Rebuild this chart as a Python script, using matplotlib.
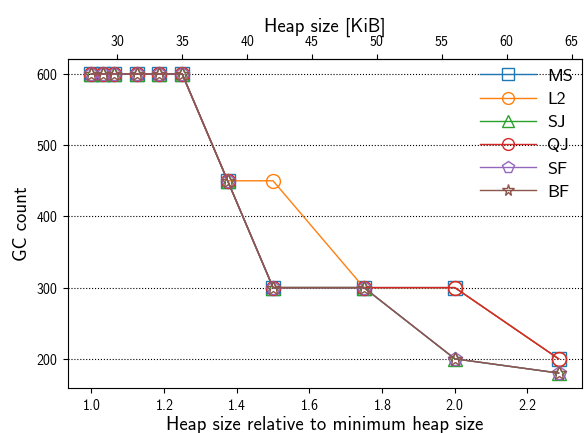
import matplotlib
matplotlib.use("Agg")
import matplotlib.pyplot as plt

plt.rcParams['font.family'] = ['cmss10', 'DejaVu Sans']
plt.rcParams['axes.formatter.use_mathtext'] = True

# minimum heap size in KiB
min_heap = 28

rel_heap = [1.0, 1.03125, 1.0625, 1.125, 1.1875, 1.25, 1.375, 1.5, 1.75,
            2.0, 2.2857]

gc_ms = [600, 600, 600, 600, 600, 600, 450, 300, 300, 300, 200]
gc_l2 = [600, 600, 600, 600, 600, 600, 450, 450, 300, 300, 200]
gc_sj = [600, 600, 600, 600, 600, 600, 450, 300, 300, 200, 180]
gc_qj = [600, 600, 600, 600, 600, 600, 450, 300, 300, 300, 200]
gc_sf = [600, 600, 600, 600, 600, 600, 450, 300, 300, 200, 180]
gc_bf = [600, 600, 600, 600, 600, 600, 450, 300, 300, 200, 180]

series = [
    ('MS', gc_ms, 's', 'tab:blue'),
    ('L2', gc_l2, 'o', 'tab:orange'),
    ('SJ', gc_sj, '^', 'tab:green'),
    ('QJ', gc_qj, 'o', 'tab:red'),
    ('SF', gc_sf, 'p', 'tab:purple'),
    ('BF', gc_bf, '*', 'tab:brown'),
]

fig = plt.figure(figsize=(5.87, 4.33), dpi=100)
ax = fig.add_axes([0.1158, 0.1039, 0.8757, 0.7598])

for name, vals, marker, color in series:
    ax.plot(rel_heap, vals, marker=marker, color=color, label=name,
            markersize=10, markerfacecolor='none', linewidth=1)

ax.grid(axis='y', linestyle=':', color='black', linewidth=0.8)
ax.set_yticks([200, 300, 400, 500, 600])
ax.set_xlabel('Heap size relative to minimum heap size', fontsize=13.5,
              labelpad=2)
ax.set_ylabel('GC count', fontsize=13.5)
ax.tick_params(labelsize=10)

top = ax.secondary_xaxis('top', functions=(lambda x: x * min_heap,
                                           lambda k: k / min_heap))
top.set_xlabel('Heap size [KiB]', fontsize=13.5, labelpad=2)
top.tick_params(labelsize=10)

ax.legend(loc='upper right', frameon=False, fontsize=13, handlelength=3.1,
          handletextpad=0.6, labelspacing=0.42, borderaxespad=0.1,
          markerscale=0.85)

fig.savefig('out.png', dpi=100)
